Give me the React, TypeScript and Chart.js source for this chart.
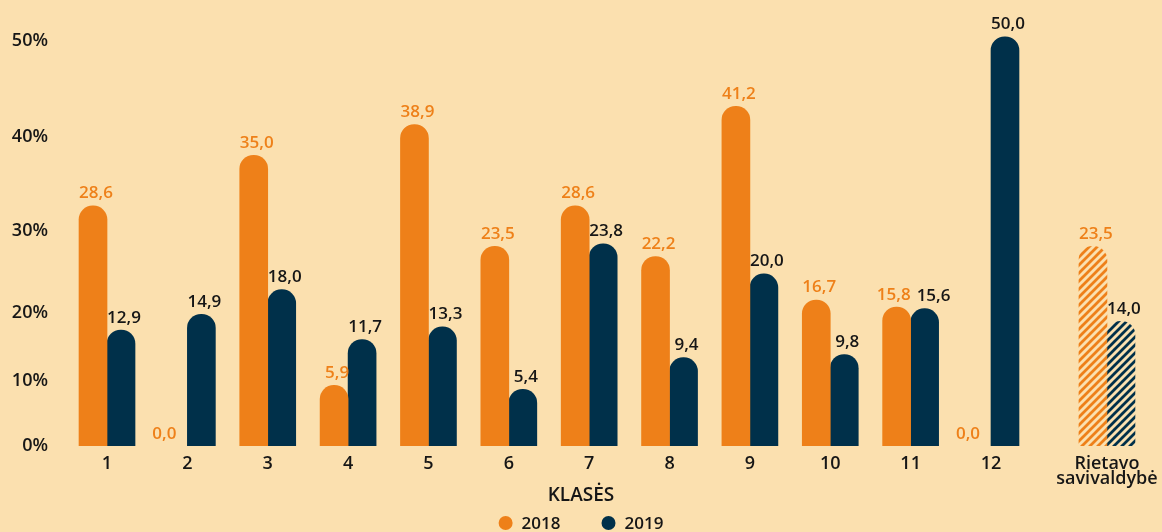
import React, { useEffect, useRef } from 'react';
import { Chart, registerables } from 'chart.js';

Chart.register(...registerables);

// ---------- data ----------
const classLabels = ['1', '2', '3', '4', '5', '6', '7', '8', '9', '10', '11', '12'];
const municipalityLabel = ['Rietavo', 'savivaldybė'];
const seriesNames = ['2018', '2019'];
const values2018 = [28.6, 0.0, 35.0, 5.9, 38.9, 23.5, 28.6, 22.2, 41.2, 16.7, 15.8, 0.0];
const values2019 = [12.9, 14.9, 18.0, 11.7, 13.3, 5.4, 23.8, 9.4, 20.0, 9.8, 15.6, 50.0];
const municipality2018 = 23.5;
const municipality2019 = 14.0;
const yTickValues = [-1.77, 6.45, 15.09, 25.42, 37.35, 49.49];
const yTickLabels = ['0%', '10%', '20%', '30%', '40%', '50%'];
const xAxisTitle = 'KLASĖS';

// ---------- style ----------
const W = 1162;
const H = 532;
const BG = '#FBE0AF';
const ORANGE = '#EE8019';
const NAVY = '#00304A';
const TEXT = '#161616';
const FONT = "'Open Sans', sans-serif";
const WEIGHT = 600;
const MUNI_GAP = 1.443;
const Y_MIN = -1.77;
const Y_MAX = 53;
const X_MIN = 0.415;
const X_MAX = 14.128;

function makeHatch(color: string) {
  const s = 8;
  const c = document.createElement('canvas');
  c.width = s;
  c.height = s;
  const g = c.getContext('2d')!;
  g.strokeStyle = color;
  g.lineWidth = 2.8;
  g.beginPath();
  g.moveTo(0, s);
  g.lineTo(s, 0);
  g.moveTo(-2, 2);
  g.lineTo(2, -2);
  g.moveTo(s - 2, s + 2);
  g.lineTo(s + 2, s - 2);
  g.stroke();
  return g.createPattern(c, 'repeat');
}

const fmt = (v: number) => v.toFixed(1).replace('.', ',');

const valueLabels = {
  id: 'valueLabels',
  afterDatasetsDraw(chart: any) {
    const ctx = chart.ctx;
    ctx.save();
    ctx.font = `${WEIGHT} 17px ${FONT}`;
    ctx.textAlign = 'center';
    ctx.textBaseline = 'alphabetic';
    const metas = chart.data.datasets.map((_: any, di: number) => chart.getDatasetMeta(di));
    const count = metas[0].data.length;
    for (let i = 0; i < count; i++) {
      const items = metas.map((meta: any, di: number) => {
        const el = meta.data[i];
        const v = chart.data.datasets[di].data[i].y;
        const text = fmt(v);
        const top = v === 0 ? el.base : el.y;
        const x = v === 0 ? el.x - 9 : el.x + 3;
        return { text, x, y: top - 7.5, w: ctx.measureText(text).width, di };
      });
      // push apart labels that would collide
      const [a, b] = items;
      if (Math.abs(a.y - b.y) < 16) {
        const overlap = a.x + a.w / 2 + 6 - (b.x - b.w / 2);
        if (overlap > 0) {
          a.x -= overlap / 2;
          b.x += overlap / 2;
        }
      }
      items.forEach((it: any) => {
        ctx.fillStyle = it.di === 0 ? ORANGE : TEXT;
        ctx.fillText(it.text, it.x, it.y);
      });
    }
    ctx.restore();
  },
};

const bottomLegend = {
  id: 'bottomLegend',
  afterDraw(chart: any) {
    const ctx = chart.ctx;
    ctx.save();
    ctx.font = `${WEIGHT} 17px ${FONT}`;
    ctx.textBaseline = 'middle';
    ctx.textAlign = 'left';
    const r = 7;
    const gapText = 9;
    const gapItem = 41;
    const items = chart.data.datasets.map((ds: any) => ({
      text: ds.label,
      color: ds.legendColor,
      w: 2 * r + gapText + ctx.measureText(ds.label).width,
    }));
    const total = items.reduce((a: number, it: any) => a + it.w, 0) + gapItem * (items.length - 1);
    let x = chart.width / 2 - total / 2;
    const y = chart.height - 9;
    items.forEach((it: any) => {
      ctx.fillStyle = it.color;
      ctx.beginPath();
      ctx.arc(x + r, y, r, 0, Math.PI * 2);
      ctx.fill();
      ctx.fillStyle = TEXT;
      ctx.fillText(it.text, x + 2 * r + gapText, y + 1);
      x += it.w + gapItem;
    });
    ctx.restore();
  },
};

export default function App() {
  const ref = useRef<HTMLCanvasElement>(null);

  useEffect(() => {
    const hatchOrange = makeHatch(ORANGE);
    const hatchNavy = makeHatch(NAVY);
    const n = classLabels.length;
    const muniX = n + MUNI_GAP;
    const xTickPositions = [...classLabels.map((_, i) => i + 1), muniX];
    const xTickLabels: any[] = [...classLabels, municipalityLabel];

    const d2018 = [...values2018.map((v, i) => ({ x: i + 1, y: v })), { x: muniX, y: municipality2018 }];
    const d2019 = [...values2019.map((v, i) => ({ x: i + 1, y: v })), { x: muniX, y: municipality2019 }];

    const colorFor = (solid: string, hatch: any) => (c: any) => {
      const raw = c.raw;
      if (!raw || raw.y === 0) return 'rgba(0,0,0,0)';
      return c.dataIndex === n ? hatch : solid;
    };

    const chart = new Chart(ref.current!, {
      type: 'bar',
      data: {
        datasets: [
          {
            label: seriesNames[0],
            data: d2018,
            backgroundColor: colorFor(ORANGE, hatchOrange),
            legendColor: ORANGE,
            base: Y_MIN,
          } as any,
          {
            label: seriesNames[1],
            data: d2019,
            backgroundColor: colorFor(NAVY, hatchNavy),
            legendColor: NAVY,
            base: Y_MIN,
          } as any,
        ],
      },
      options: {
        responsive: false,
        animation: false,
        devicePixelRatio: 1,
        layout: { padding: { top: 13, bottom: 24, left: 0, right: 0 } },
        datasets: {
          bar: {
            barThickness: 28,
            borderRadius: 14,
            borderSkipped: 'start',
            grouped: true,
          },
        } as any,
        scales: {
          x: {
            type: 'linear',
            min: X_MIN,
            max: X_MAX,
            offset: false,
            grid: { display: false, drawTicks: false },
            border: { display: false },
            afterBuildTicks: (s: any) => {
              s.ticks = xTickPositions.map((v) => ({ value: v }));
            },
            afterFit: (s: any) => {
              s.height = 44;
              s.paddingLeft = 0;
              s.paddingRight = 0;
            },
            ticks: {
              autoSkip: false,
              maxRotation: 0,
              minRotation: 0,
              padding: 11,
              color: TEXT,
              font: { family: FONT, size: 18, weight: WEIGHT as any, lineHeight: 0.8 },
              callback: (_v: any, i: number) => xTickLabels[i],
            },
          },
          y: {
            type: 'linear',
            min: Y_MIN,
            max: Y_MAX,
            grid: { display: false, drawTicks: false },
            border: { display: false },
            afterBuildTicks: (s: any) => {
              s.ticks = yTickValues.map((v) => ({ value: v }));
            },
            afterFit: (s: any) => {
              s.width = 60;
              s.paddingTop = 0;
              s.paddingBottom = 0;
            },
            ticks: {
              autoSkip: false,
              padding: 12,
              color: TEXT,
              font: { family: FONT, size: 18, weight: WEIGHT as any },
              callback: (_v: any, i: number) => yTickLabels[i],
            },
          },
        },
        plugins: {
          legend: { display: false },
          tooltip: { enabled: false },
          title: {
            display: true,
            position: 'bottom',
            text: xAxisTitle,
            color: TEXT,
            font: { family: FONT, size: 19, weight: WEIGHT as any, lineHeight: 1.2 },
            padding: { top: -5.4, bottom: 0.6 },
          },
        },
      },
      plugins: [valueLabels, bottomLegend],
    });
    return () => chart.destroy();
  }, []);

  return (
    <div
      style={{
        position: 'fixed',
        left: 0,
        top: 0,
        width: W,
        height: H,
        background: BG,
        overflow: 'hidden',
      }}
    >
      <canvas ref={ref} width={W} height={H} style={{ display: 'block', width: W, height: H }} />
    </div>
  );
}
